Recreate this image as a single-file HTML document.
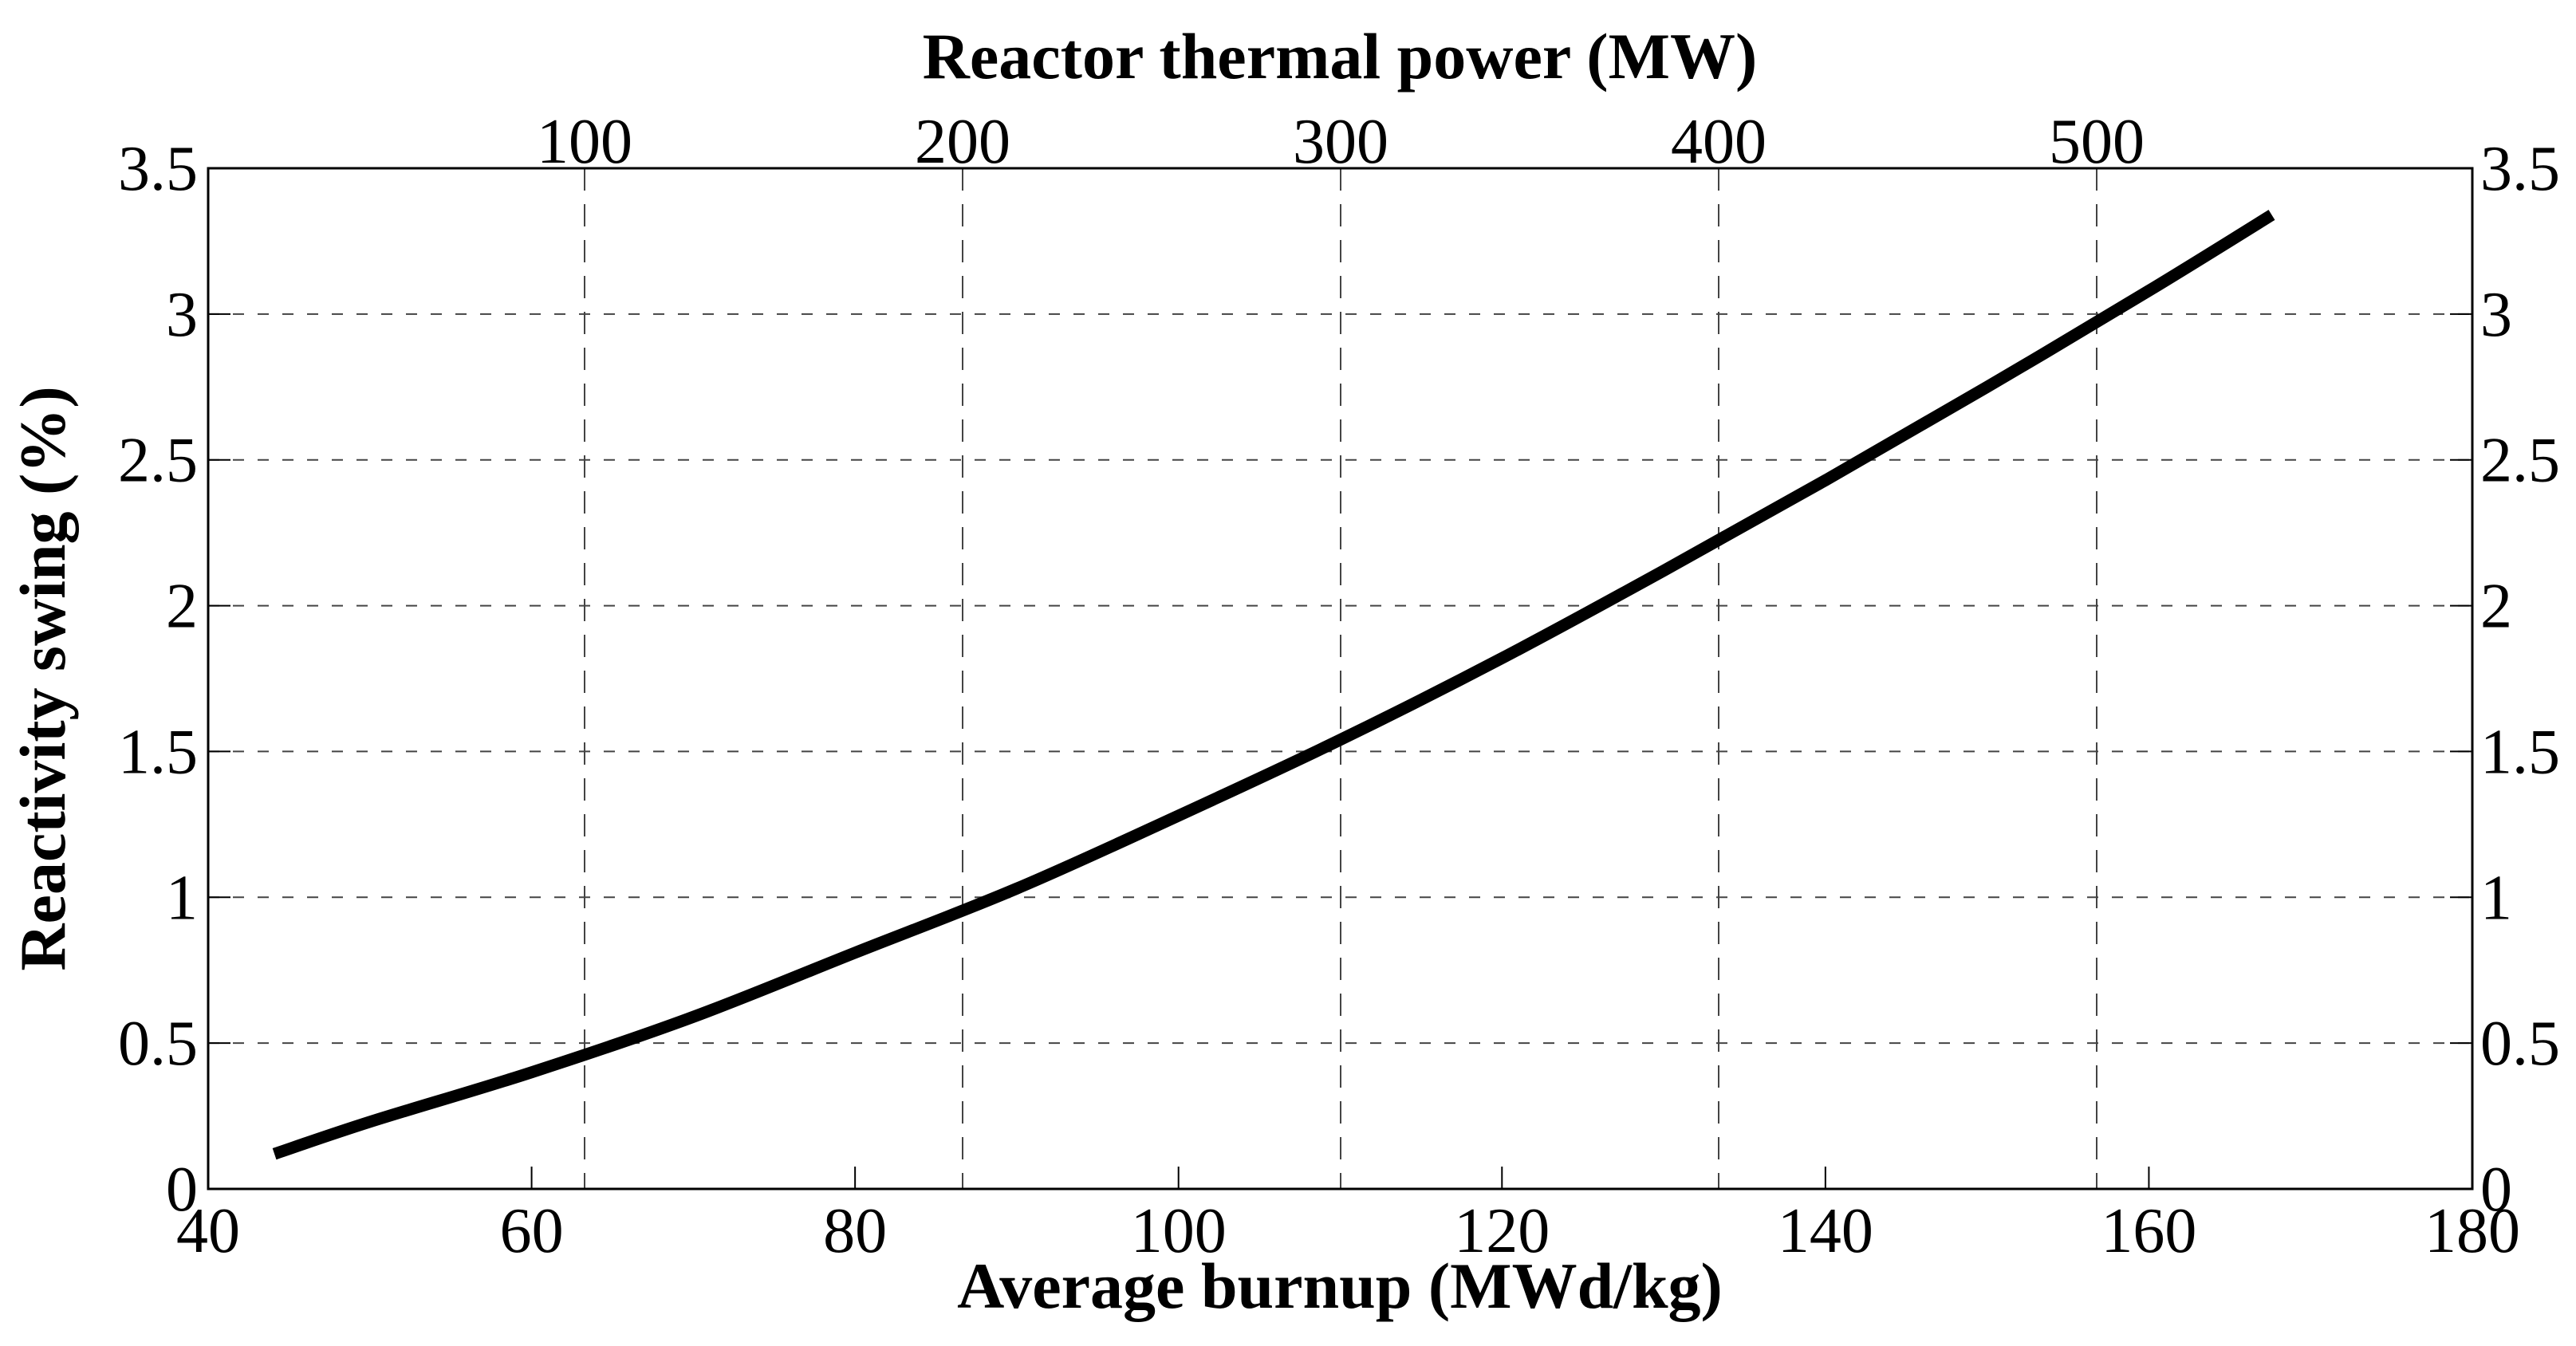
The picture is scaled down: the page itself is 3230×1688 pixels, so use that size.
<!DOCTYPE html>
<html><head><meta charset="utf-8"><style>
html,body{margin:0;padding:0;background:#fff;}
svg{display:block;font-family:"Liberation Serif",serif;}
</style></head><body>
<svg id="chart" width="3230" height="1688" viewBox="0 0 3230 1688" xmlns="http://www.w3.org/2000/svg">
<rect width="3230" height="1688" fill="#fff"/>
<g id="grid"></g>
<g id="ticks"></g>
<g id="labels"></g>
<g id="series"></g>
<rect x="261" y="211" width="2839" height="1280" fill="none" stroke="#000" stroke-width="3"/>
<text x="1680" y="1640" font-size="82" font-weight="bold" text-anchor="middle">Average burnup (MWd/kg)</text>
<text x="1680" y="98" font-size="82" font-weight="bold" text-anchor="middle">Reactor thermal power (MW)</text>
<text transform="translate(62,851) rotate(-90)" font-size="82" font-weight="bold" text-anchor="middle" dominant-baseline="middle">Reactivity swing (%)</text>
</svg>
<script>
const burnup = [44.1, 50, 60, 70, 80, 90, 100, 110, 120, 130, 140, 150, 160, 167.6];
const swing = [0.12, 0.23, 0.40, 0.59, 0.81, 1.03, 1.28, 1.54, 1.82, 2.12, 2.43, 2.75, 3.08, 3.34];
const xTicks = [40, 60, 80, 100, 120, 140, 160, 180];
const yTicks = [0, 0.5, 1, 1.5, 2, 2.5, 3, 3.5];
const yTickLabels = ["0", "0.5", "1", "1.5", "2", "2.5", "3", "3.5"];
const powerTicks = [100, 200, 300, 400, 500];

const L=261,R=3100,T=211,B=1491;
const xs = v => L + (v-40)/(180-40)*(R-L);
const ys = v => B - v/3.5*(B-T);
const px = p => 733 + (p-100)*4.74;
const NS="http://www.w3.org/2000/svg";
function mk(tag, attrs, parent, txt){const e=document.createElementNS(NS,tag);for(const k in attrs)e.setAttribute(k,attrs[k]);if(txt!==undefined)e.textContent=txt;document.getElementById(parent).appendChild(e);return e;}

yTicks.forEach((v,i)=>{
  const y=ys(v);
  if(v>0&&v<3.5){
    const g=mk('line',{x1:L,x2:R,y1:y,y2:y,stroke:'#444','stroke-width':2,'stroke-dasharray':'14 17'},'grid');
    
    
  }
  const t1=mk('line',{x1:L,x2:L+28,y1:y,y2:y,stroke:'#000','stroke-width':2},'ticks');
  
  
  const t2=mk('line',{x1:R-28,x2:R,y1:y,y2:y,stroke:'#000','stroke-width':2},'ticks');
  
  
  const l1=mk('text',{x:248,y:y+27,'font-size':80,'text-anchor':'end'},'labels',yTickLabels[i]);
  
  
  const l2=mk('text',{x:3110,y:y+27,'font-size':80,'text-anchor':'start'},'labels',yTickLabels[i]);
  
  
});
xTicks.forEach(v=>{
  const x=xs(v);
  const t=mk('line',{x1:x,x2:x,y1:B,y2:B-28,stroke:'#000','stroke-width':2},'ticks');
  
  
  const l=mk('text',{x:x,y:1570,'font-size':80,'text-anchor':'middle'},'labels',String(v));
  
  
});
powerTicks.forEach(p=>{
  const x=px(p);
  const g=mk('line',{x1:x,x2:x,y1:T,y2:B,stroke:'#444','stroke-width':2,'stroke-dasharray':'28 17'},'grid');
  
  
  const l=mk('text',{x:x,y:204,'font-size':80,'text-anchor':'middle'},'labels',String(p));
  
  
});
// smooth path (Catmull-Rom) through data points
const P=burnup.map((b,i)=>[xs(b),ys(swing[i])]);
let d='M'+P[0][0].toFixed(1)+' '+P[0][1].toFixed(1);
for(let i=0;i<P.length-1;i++){
  const p0=P[Math.max(0,i-1)],p1=P[i],p2=P[i+1],p3=P[Math.min(P.length-1,i+2)];
  const c1=[p1[0]+(p2[0]-p0[0])/6,p1[1]+(p2[1]-p0[1])/6];
  const c2=[p2[0]-(p3[0]-p1[0])/6,p2[1]-(p3[1]-p1[1])/6];
  d+=' C'+c1.map(v=>v.toFixed(1)).join(' ')+' '+c2.map(v=>v.toFixed(1)).join(' ')+' '+p2.map(v=>v.toFixed(1)).join(' ');
}
const path=mk('path',{d:d,fill:'none',stroke:'#000','stroke-width':15,'stroke-linejoin':'round'},'series');


</script>
</body></html>
